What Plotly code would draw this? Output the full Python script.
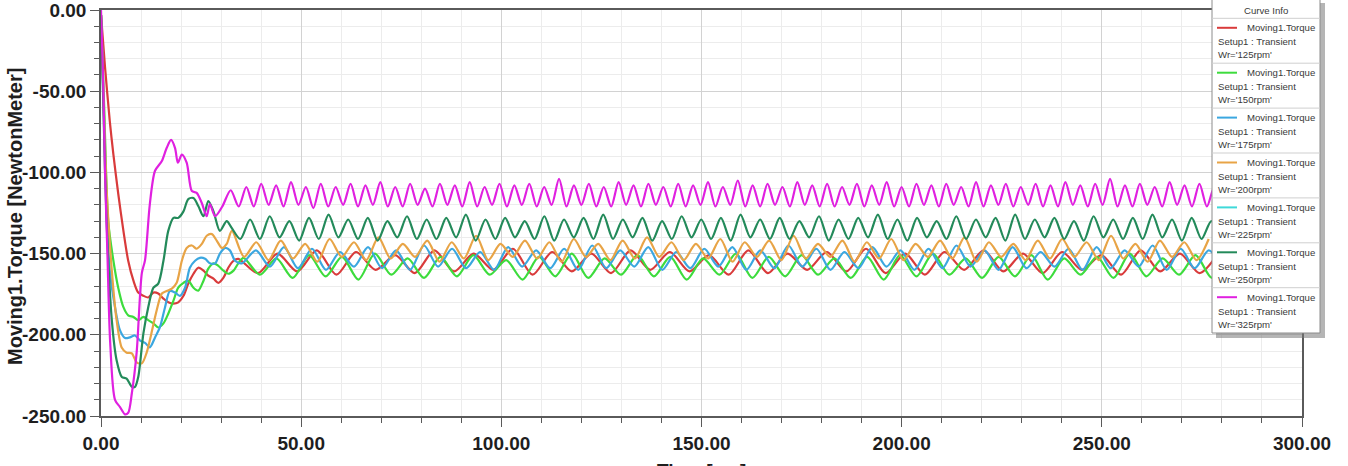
import numpy as np
import plotly.graph_objects as go

# ---------------- data ----------------
series_names = ["Wr='125rpm'", "Wr='150rpm'", "Wr='175rpm'", "Wr='200rpm'",
                "Wr='225rpm'", "Wr='250rpm'", "Wr='325rpm'"]
series_colors = ["#d93b3b", "#3ddc3d", "#3ba7e0", "#e8a446",
                 "#3fd9d9", "#238a5a", "#e020e0"]

# start-up transient: (time ms, torque N.m)
t_tr_125 = [0, 1.0, 2.2, 3.1, 4.3, 5.6, 6.8, 8.1, 9.3, 10.6, 11.8, 13.1, 14.3, 15.6, 16.8, 18.1, 19.3, 20.6, 21.8, 23.1, 24.3, 25.6, 26.8, 28.1, 29.3, 30.6, 31.8, 33.1, 34.3]
v_tr_125 = [-3, -35, -68.6, -89, -113, -136, -154.4, -166.7, -174, -176, -177, -174, -174.6, -177.7, -180, -180.8, -180, -176, -168.5, -162.4, -158.7, -160.5, -163.6, -165.4, -168, -164.8, -158.7, -154.4, -153.2]

t_tr_150 = [0, 0.8, 1.8, 3.1, 4.3, 5.6, 6.8, 8.1, 9.3, 10.6, 11.8, 13.1, 14.3, 15.6, 16.8, 18.1, 19.3, 20.6, 21.8, 23.1, 24.3, 25.6, 26.8, 28.1, 29.3, 30.6, 31.8, 33.1, 34.3, 35.6]
v_tr_150 = [-3, -60, -130, -154.4, -171, -183, -188, -189, -191, -189, -191, -193, -195.5, -193, -187, -179, -171, -168, -166.7, -171, -172.8, -166.7, -159.3, -156, -157.5, -160.5, -162.4, -160.5, -156, -152.6]

t_tr_175 = [0, 0.8, 1.5, 2.2, 3.5, 4.7, 6.0, 7.2, 8.5, 9.7, 11.0, 12.2, 13.5, 14.7, 16.0, 17.2, 18.5, 19.7, 21.0, 22.2, 23.5, 24.7, 26.0, 27.2, 28.5, 29.7, 31.0, 32.2, 33.5, 35.2]
v_tr_175 = [-3, -70, -130, -160.5, -183, -197, -202, -201.6, -200.4, -203.4, -205, -207.7, -201.6, -195.5, -183, -173, -174, -176, -171, -158.7, -154.4, -152.6, -153.2, -156, -156, -150, -146.5, -148, -154.4, -156]

t_tr_200 = [0, 0.7, 1.4, 2.7, 3.9, 5.2, 6.4, 7.7, 8.9, 10.2, 11.4, 12.6, 13.9, 15.2, 16.4, 17.7, 18.9, 20.2, 21.4, 22.7, 23.9, 25.2, 26.4, 27.7, 28.9, 30.2, 31.4, 32.7]
v_tr_200 = [-3, -60, -110, -160.5, -191, -208, -211, -211.4, -217, -217.6, -211, -199, -185, -174.6, -173, -171.6, -168, -154.4, -146.5, -145, -147, -144, -139, -138, -142, -146.5, -144, -136]

t_tr_225 = []
v_tr_225 = []

t_tr_250 = [0, 0.6, 1.4, 2.7, 3.9, 5.2, 6.4, 7.7, 8.5, 9.3, 10.6, 11.8, 13.1, 14.3, 15.6, 16.8, 18.1, 19.3, 20.6, 21.8, 23.1, 24.3, 25.6, 26.8, 28.1, 29.7, 31.4, 32.6, 34.8]
v_tr_250 = [-3, -60, -130, -191, -215.7, -226, -227, -232, -232, -226, -199, -183, -171, -168.5, -154.4, -136, -128, -128, -124, -116.4, -115.8, -120.7, -127, -117.6, -124, -136, -130, -134, -141]

t_tr_325 = [0, 0.5, 1.0, 1.6, 2.3, 3.5, 4.75, 6.0, 6.8, 7.7, 8.9, 10.2, 11.0, 12.2, 13.5, 15.2, 16.4, 17.5, 18.5, 19.2, 20.2, 21.4, 22.7, 23.9, 25.2, 26.4, 27.2, 28.5, 30.3, 32.4, 34.4]
v_tr_325 = [0, -40, -100, -150, -205, -240, -244.5, -249, -248, -236, -211, -162, -154, -119.5, -99, -93, -85, -80, -85, -94, -89, -94, -111.5, -112.6, -119, -127, -119.5, -127, -121, -111, -121]

# steady state: successive extremes (alternating), first sample time and half period (ms)
ss_start_ms = {"125": 39.2, "150": 39.7, "175": 38.7, "200": 35.75, "225": 0.0, "250": 37.25, "325": 36.3}
ss_half_period_ms = {"125": 4.9, "150": 4.1, "175": 3.5, "200": 3.05, "225": 2.7, "250": 2.45, "325": 1.86}

v_ss_125 = [-162, -150, -161, -148, -163, -149, -160, -151, -162, -148, -161, -150, -160, -147, -163, -149, -161, -150, -162, -148,
            -160, -149, -161, -151, -163, -148, -162, -150, -160, -149, -161, -147, -162, -150, -163, -149, -160, -148, -161, -150,
            -162, -149, -160, -151, -163, -148, -161, -150, -162, -149]
v_ss_150 = [-163, -153, -165, -151, -164, -152, -166, -150, -163, -153, -165, -152, -164, -151, -163, -154, -166, -152, -164, -150,
            -165, -153, -163, -151, -164, -152, -166, -153, -163, -150, -165, -152, -164, -151, -163, -153, -165, -152, -166, -151,
            -164, -150, -163, -153, -165, -152, -164, -151, -166, -153, -163, -152, -165, -150, -164, -153, -163, -151, -165, -152]
v_ss_175 = [-148, -158, -146, -159, -147, -160, -149, -158, -146, -159, -148, -160, -145, -158, -147, -159, -149, -160, -146, -158,
            -148, -159, -147, -160, -145, -159, -148, -158, -146, -160, -149, -159, -147, -158, -146, -160, -148, -159, -145, -158,
            -147, -160, -149, -159, -146, -158, -148, -160, -147, -159, -145, -158, -148, -160, -146, -159, -149, -158, -147, -160,
            -146, -159, -148, -158, -145, -160, -147, -159, -148, -158]
v_ss_200 = [-152, -143, -154, -142, -153, -144, -155, -141, -152, -143, -154, -140, -153, -144, -152, -142, -155, -143, -153, -139,
            -154, -144, -152, -142, -153, -143, -155, -141, -152, -144, -154, -142, -153, -140, -152, -143, -154, -144, -153, -141,
            -155, -143, -152, -142, -154, -139, -153, -144, -152, -142, -155, -143, -153, -141, -154, -144, -152, -142, -153, -140,
            -155, -143, -152, -144, -154, -142, -153, -141, -152, -143, -154, -139, -153, -144, -155, -142, -152, -143, -154, -141]
v_ss_225 = []
v_ss_250 = [-129, -141, -127, -140, -130, -142, -128, -141, -126, -140, -129, -141, -128, -142, -130, -140, -127, -141, -129, -141,
            -128, -140, -126, -142, -129, -141, -128, -140, -130, -141, -127, -142, -129, -140, -128, -141, -126, -141, -129, -140,
            -128, -142, -130, -141, -127, -140, -129, -141, -128, -142, -126, -140, -129, -141, -128, -141, -130, -140, -127, -142,
            -129, -141, -128, -140, -126, -141, -129, -142, -128, -140, -130, -141, -127, -141, -129, -140, -128, -142, -126, -141,
            -129, -140, -128, -141, -130, -142, -127, -140, -129, -141, -128, -141, -126, -140, -129, -142, -128, -141, -130, -140]
v_ss_325 = [-109, -121, -107, -120, -108, -121, -106, -120, -109, -122, -107, -121, -109, -120, -107, -121, -108, -120, -106, -121,
            -109, -121, -107, -120, -110, -121, -107, -120, -108, -121, -106, -121, -109, -120, -107, -121, -108, -120, -107, -121,
            -109, -120, -104, -121, -108, -120, -107, -121, -109, -121, -106, -120, -108, -121, -107, -120, -109, -121, -107, -121,
            -108, -120, -106, -121, -109, -120, -105, -121, -108, -121, -107, -120, -109, -121, -106, -120, -108, -121, -107, -121,
            -109, -120, -107, -121, -108, -120, -106, -121, -109, -121, -107, -120, -108, -121, -107, -120, -109, -121, -106, -121,
            -108, -120, -107, -121, -109, -120, -107, -121, -108, -121, -106, -120, -108, -121, -107, -120, -104, -121, -108, -121,
            -107, -120, -109, -121, -106, -120, -108, -121, -107, -121, -109, -120]

x_ticks = [0, 50, 100, 150, 200, 250, 300]
x_ticktext = ["0.00", "50.00", "100.00", "150.00", "200.00", "250.00", "300.00"]
y_ticks = [-250, -200, -150, -100, -50, 0]
y_ticktext = ["-250.00", "-200.00", "-150.00", "-100.00", "-50.00", "0.00"]

transients = {"125": (t_tr_125, v_tr_125), "150": (t_tr_150, v_tr_150), "175": (t_tr_175, v_tr_175),
              "200": (t_tr_200, v_tr_200), "225": (t_tr_225, v_tr_225), "250": (t_tr_250, v_tr_250),
              "325": (t_tr_325, v_tr_325)}
steady = {"125": v_ss_125, "150": v_ss_150, "175": v_ss_175, "200": v_ss_200,
          "225": v_ss_225, "250": v_ss_250, "325": v_ss_325}
keys = ["125", "150", "175", "200", "225", "250", "325"]

# ---------------- figure ----------------
W, H = 1348, 466
PL, PR, PT, PB = 101, 1302, 10, 416   # plot area in pixels

def fx(px):
    return (px - PL) / (PR - PL)

def fy(py):
    return (PB - py) / (PB - PT)

fig = go.Figure()
for key, color in zip(keys, series_colors):
    tt, vv = transients[key]
    vs = steady[key]
    ts = list(ss_start_ms[key] + ss_half_period_ms[key] * np.arange(len(vs)))
    x = list(tt) + ts
    y = list(vv) + list(vs)
    if not x:
        continue
    fig.add_trace(go.Scatter(x=x, y=y, mode="lines",
                             line=dict(color=color, width=2.2, shape="spline", smoothing=0.8),
                             showlegend=False, hoverinfo="skip"))

tickfont = dict(family="Liberation Sans", size=19, color="#1e1e1e", weight="bold")
axis_common = dict(showline=True, mirror=True, linecolor="#5a5a5a", linewidth=1.5,
                   ticks="outside", ticklen=9, tickcolor="#5a5a5a", tickwidth=1.2,
                   showgrid=True, gridcolor="#d2d2d2", gridwidth=1, zeroline=False,
                   tickfont=tickfont, ticklabeloverflow="allow", automargin=False,
                   minor=dict(dtick=10, showgrid=True, gridcolor="#ececec", ticks="outside",
                              ticklen=5, tickcolor="#5a5a5a"))

fig.update_xaxes(range=[0, 300], tickvals=x_ticks, ticktext=x_ticktext, **axis_common)
fig.update_yaxes(range=[-250, 0], tickvals=y_ticks, ticktext=y_ticktext, **axis_common)

shapes = []
annotations = []

# axis titles
annotations.append(dict(text="Moving1.Torque [NewtonMeter]", x=fx(15), y=fy(217), xref="paper", yref="paper",
                        textangle=-90, showarrow=False, xanchor="center", yanchor="middle",
                        font=dict(family="Liberation Sans", size=20, color="#1e1e1e", weight="bold")))
annotations.append(dict(text="Time [ms]", x=fx(701), y=fy(458), xref="paper", yref="paper",
                        showarrow=False, xanchor="center", yanchor="top",
                        font=dict(family="Liberation Sans", size=19, color="#1e1e1e", weight="bold")))

# custom "Curve Info" legend box
LL, LR, LT, LB = 1212, 1320, -1, 333
shapes.append(dict(type="rect", xref="paper", yref="paper", x0=fx(LL + 4), x1=fx(LR + 5), y0=fy(LB + 5), y1=fy(LT + 4),
                   fillcolor="rgba(120,120,120,0.55)", line=dict(width=0), layer="above"))
shapes.append(dict(type="rect", xref="paper", yref="paper", x0=fx(LL), x1=fx(LR), y0=fy(LB), y1=fy(LT),
                   fillcolor="white", line=dict(color="#8c8c8c", width=1), layer="above"))
legfont = dict(family="Liberation Sans", size=9.6, color="#3a3a3a")
annotations.append(dict(text="Curve Info", x=fx((LL + LR) / 2), y=fy(10), xref="paper", yref="paper",
                        showarrow=False, xanchor="center", yanchor="middle", font=legfont))
sep0, pitch = 18.3, 44.9
for k, (name, color) in enumerate(zip(series_names, series_colors)):
    ys = sep0 + pitch * k
    shapes.append(dict(type="line", xref="paper", yref="paper", x0=fx(LL), x1=fx(LR), y0=fy(ys), y1=fy(ys),
                       line=dict(color="#cfcfcf", width=1), layer="above"))
    shapes.append(dict(type="line", xref="paper", yref="paper", x0=fx(1217), x1=fx(1237),
                       y0=fy(ys + 9.5), y1=fy(ys + 9.5), line=dict(color=color, width=2), layer="above"))
    annotations.append(dict(text="Moving1.Torque", x=fx(1245), y=fy(ys + 9.5), xref="paper", yref="paper",
                            showarrow=False, xanchor="left", yanchor="middle", font=legfont))
    annotations.append(dict(text="Setup1 : Transient", x=fx(1216), y=fy(ys + 23.5), xref="paper", yref="paper",
                            showarrow=False, xanchor="left", yanchor="middle", font=legfont))
    annotations.append(dict(text=name, x=fx(1216), y=fy(ys + 36.5), xref="paper", yref="paper",
                            showarrow=False, xanchor="left", yanchor="middle", font=legfont))

fig.update_layout(width=W, height=H, margin=dict(l=PL, r=W - PR, t=PT, b=H - PB, autoexpand=False),
                  paper_bgcolor="white", plot_bgcolor="white",
                  shapes=shapes, annotations=annotations, showlegend=False)

fig.write_html("out.html")
